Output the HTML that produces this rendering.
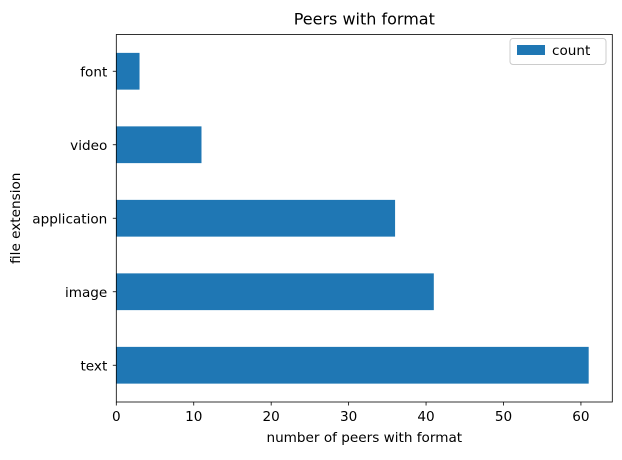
<!DOCTYPE html>
<html><head><meta charset="utf-8"><style>
body{margin:0;background:#fff;}
svg text{font-family:"DejaVu Sans","Liberation Sans",sans-serif;fill:#000;}
</style></head><body>
<svg id="chart" width="622" height="455" xmlns="http://www.w3.org/2000/svg">
<rect width="622" height="455" fill="#fff"/>
<g id="bars"></g><g id="axes"></g>
</svg>
<script>
const categories=["text","image","application","video","font"];
const counts=[61,41,36,11,3];
const xTicks=[0,10,20,30,40,50,60];
const L=116.3,R=612.3,T=34.5,B=402,xMax=64.05;
const FS=13.6;
const x=v=>L+v/xMax*(R-L);
const step=(B-T)/categories.length;
const yc=i=>B-step*(i+0.5);
const ns="http://www.w3.org/2000/svg";
function mk(tag,attrs,parent,text){const e=document.createElementNS(ns,tag);for(const k in attrs)e.setAttribute(k,attrs[k]);if(text!==undefined)e.textContent=text;parent.appendChild(e);return e;}
const bars=document.getElementById('bars'),axes=document.getElementById('axes');
categories.forEach((c,i)=>{
 const r=mk('rect',{x:x(0),y:yc(i)-step*0.25,width:x(counts[i])-x(0),height:step*0.5,fill:'#1f77b4'},bars);
 
 
 mk('line',{x1:L-3.5,x2:L,y1:yc(i),y2:yc(i),stroke:'#000','stroke-width':0.8},axes);
 const t=mk('text',{x:L-9,y:yc(i)+5,'text-anchor':'end','font-size':FS},axes,c);
 
 
});
xTicks.forEach(v=>{
 mk('line',{x1:x(v),x2:x(v),y1:B,y2:B+3.5,stroke:'#000','stroke-width':0.8},axes);
 const t=mk('text',{x:x(v),y:B+19,'text-anchor':'middle','font-size':FS},axes,String(v));
 
 
});
const f=mk('rect',{x:L,y:T,width:R-L,height:B-T,fill:'none',stroke:'#000','stroke-width':0.8},axes);


const title=mk('text',{x:(L+R)/2,y:T-10,'text-anchor':'middle','font-size':16},axes,'Peers with format');


const xt=mk('text',{x:(L+R)/2,y:442,'text-anchor':'middle','font-size':FS},axes,'number of peers with format');


const yt=mk('text',{x:0,y:0,'text-anchor':'middle','font-size':FS,transform:'translate(20,'+((T+B)/2)+') rotate(-90)'},axes,'file extension');


const lg=mk('g',{},axes);


mk('rect',{x:510,y:38.5,width:96,height:26,rx:3,fill:'#fff',stroke:'#ccc','stroke-width':1},lg);
mk('rect',{x:517,y:45,width:28,height:10,fill:'#1f77b4'},lg);
const lt=mk('text',{x:552,y:55,'font-size':FS},lg,'count');


</script>
</body></html>
